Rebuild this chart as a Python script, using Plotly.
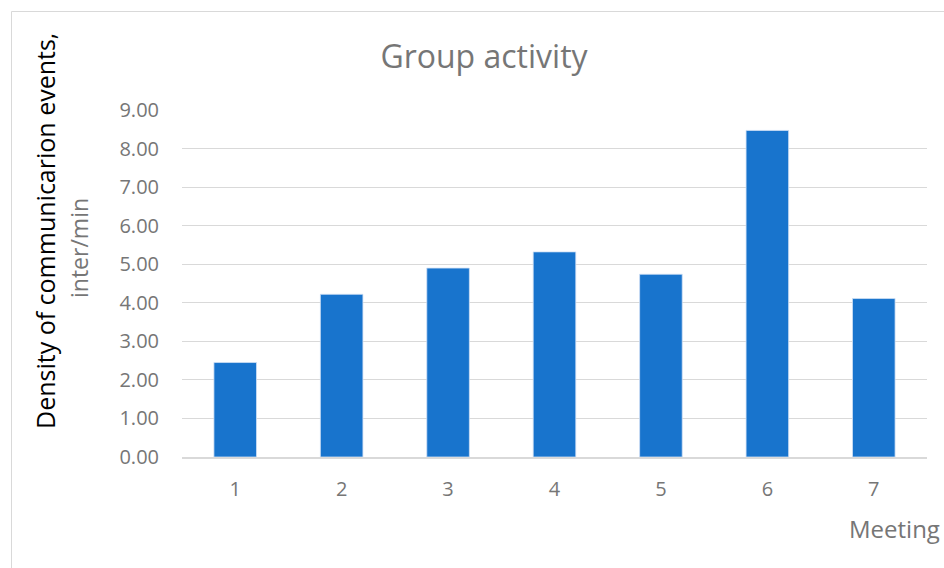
import plotly.graph_objects as go

meetings = ["1", "2", "3", "4", "5", "6", "7"]
density = [2.45, 4.22, 4.90, 5.32, 4.74, 8.47, 4.11]
y_ticks = [0, 1, 2, 3, 4, 5, 6, 7, 8, 9]
y_ticklabels = ["0.00", "1.00", "2.00", "3.00", "4.00", "5.00", "6.00", "7.00", "8.00", "9.00"]

W, H = 944, 568
L, R, T, B = 182, 17, 110, 111
pw, ph = W - L - R, H - T - B

def px_x(x):
    return (x - L) / pw

def px_y(y):
    return (H - B - y) / ph

FONT = "Open Sans"
GRAY = "#767676"

fig = go.Figure()
fig.add_trace(go.Bar(
    x=meetings, y=density,
    marker=dict(color="#1874CD", line=dict(color="#cfe0f5", width=0.8)),
    width=0.4,
))

fig.update_layout(
    width=W, height=H,
    margin=dict(l=L, r=R, t=T, b=B),
    paper_bgcolor="white", plot_bgcolor="white",
    showlegend=False,
    font=dict(family=FONT, color=GRAY),
    title=dict(text="Group activity", x=px_x(484), xref="paper", xanchor="center",
               y=1 - 57 / H, yanchor="middle",
               font=dict(family=FONT, size=32, color=GRAY)),
    xaxis=dict(
        type="category", showgrid=False, showline=True, linecolor="#d9d9d9", linewidth=1.5,
        ticks="outside", ticklen=13, tickcolor="rgba(0,0,0,0)",
        tickfont=dict(family=FONT, size=20, color=GRAY),
    ),
    yaxis=dict(
        range=[0, 9], tickvals=y_ticks, ticktext=y_ticklabels,
        showgrid=True, gridcolor="#d9d9d9", gridwidth=1, zeroline=False,
        ticks="outside", ticklen=18, tickcolor="rgba(0,0,0,0)",
        tickfont=dict(family=FONT, size=20, color=GRAY),
    ),
    shapes=[dict(type="rect", xref="paper", yref="paper",
                 x0=px_x(11.5), x1=px_x(960), y0=px_y(11.5), y1=px_y(600),
                 line=dict(color="#d9d9d9", width=1), layer="below")],
    annotations=[
        dict(text="Density of communicarion events,", textangle=-90, showarrow=False,
             xref="paper", yref="paper", x=px_x(45), y=px_y(231),
             xanchor="center", yanchor="middle",
             font=dict(family=FONT, size=25, color="#000000")),
        dict(text="inter/min", textangle=-90, showarrow=False,
             xref="paper", yref="paper", x=px_x(79), y=px_y(248),
             xanchor="center", yanchor="middle",
             font=dict(family=FONT, size=23, color=GRAY)),
        dict(text="Meeting", showarrow=False, xref="paper", yref="paper",
             x=px_x(942), y=px_y(528), xanchor="right", yanchor="middle",
             font=dict(family=FONT, size=24, color=GRAY)),
    ],
)

fig.write_html("out.html")
